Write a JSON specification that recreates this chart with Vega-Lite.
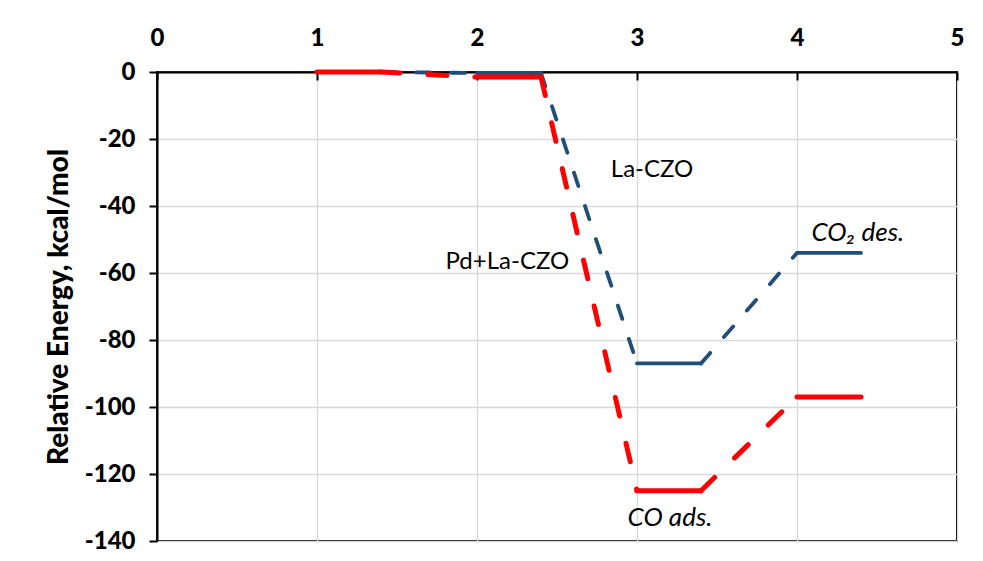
{
  "$schema": "https://vega.github.io/schema/vega-lite/v6.json",
  "width": 800,
  "height": 469,
  "autosize": {"type": "none"},
  "padding": {"left": 157, "top": 72, "right": 26, "bottom": 20},
  "background": "white",
  "config": {
    "font": "Lato",
    "view": {"stroke": "black", "strokeWidth": 2}
  },
  "datasets": {
    "lines": [
      {"series": "La-CZO", "seg": "b1", "kind": "level", "x": 1, "y": 0},
      {"series": "La-CZO", "seg": "b1", "kind": "level", "x": 1.4, "y": 0},
      {"series": "La-CZO", "seg": "b2", "kind": "connector", "x": 1.4, "y": 0},
      {"series": "La-CZO", "seg": "b2", "kind": "connector", "x": 2, "y": -0.3},
      {"series": "La-CZO", "seg": "b3", "kind": "level", "x": 2, "y": -0.3},
      {"series": "La-CZO", "seg": "b3", "kind": "level", "x": 2.4, "y": -0.3},
      {"series": "La-CZO", "seg": "b4", "kind": "connector", "x": 2.4, "y": -0.3},
      {"series": "La-CZO", "seg": "b4", "kind": "connector", "x": 3, "y": -87},
      {"series": "La-CZO", "seg": "b5", "kind": "level", "x": 3, "y": -87},
      {"series": "La-CZO", "seg": "b5", "kind": "level", "x": 3.4, "y": -87},
      {"series": "La-CZO", "seg": "b6", "kind": "connector", "x": 3.4, "y": -87},
      {"series": "La-CZO", "seg": "b6", "kind": "connector", "x": 4, "y": -54},
      {"series": "La-CZO", "seg": "b7", "kind": "level", "x": 4, "y": -54},
      {"series": "La-CZO", "seg": "b7", "kind": "level", "x": 4.4, "y": -54},
      {"series": "Pd+La-CZO", "seg": "r1", "kind": "level", "x": 1, "y": 0},
      {"series": "Pd+La-CZO", "seg": "r1", "kind": "level", "x": 1.4, "y": 0},
      {"series": "Pd+La-CZO", "seg": "r2", "kind": "connector", "x": 1.4, "y": 0},
      {"series": "Pd+La-CZO", "seg": "r2", "kind": "connector", "x": 2, "y": -1.5},
      {"series": "Pd+La-CZO", "seg": "r3", "kind": "level", "x": 2, "y": -1.5},
      {"series": "Pd+La-CZO", "seg": "r3", "kind": "level", "x": 2.4, "y": -1.5},
      {"series": "Pd+La-CZO", "seg": "r4", "kind": "connector", "x": 2.4, "y": -1.5},
      {"series": "Pd+La-CZO", "seg": "r4", "kind": "connector", "x": 3, "y": -125},
      {"series": "Pd+La-CZO", "seg": "r5", "kind": "level", "x": 3, "y": -125},
      {"series": "Pd+La-CZO", "seg": "r5", "kind": "level", "x": 3.4, "y": -125},
      {"series": "Pd+La-CZO", "seg": "r6", "kind": "connector", "x": 3.4, "y": -125},
      {"series": "Pd+La-CZO", "seg": "r6", "kind": "connector", "x": 4, "y": -97},
      {"series": "Pd+La-CZO", "seg": "r7", "kind": "level", "x": 4, "y": -97},
      {"series": "Pd+La-CZO", "seg": "r7", "kind": "level", "x": 4.4, "y": -97}
    ],
    "labels": [
      {"text": "La-CZO", "style": "normal", "x": 3.094, "y": -29.3},
      {"text": "Pd+La-CZO", "style": "normal", "x": 2.19, "y": -56.6},
      {"text": "CO₂ des.", "style": "italic", "x": 4.38, "y": -48.2},
      {"text": "CO ads.", "style": "italic", "x": 3.206, "y": -133.1}
    ]
  },
  "encoding": {
    "x": {
      "field": "x",
      "type": "quantitative",
      "scale": {"domain": [0, 5], "nice": false, "zero": false},
      "axis": {
        "orient": "top",
        "values": [0, 1, 2, 3, 4, 5],
        "labelExpr": "'' + datum.value",
        "labelFlush": false,
        "title": null,
        "grid": true,
        "gridColor": "#d9d9d9",
        "gridWidth": 1.3,
        "domainColor": "black",
        "domainWidth": 2,
        "tickColor": "black",
        "tickWidth": 2,
        "tickSize": -8,
        "labelPadding": 30,
        "labelFont": "Lato",
        "labelFontWeight": 900,
        "labelFontSize": 24,
        "labelColor": "black"
      }
    },
    "y": {
      "field": "y",
      "type": "quantitative",
      "scale": {"domain": [-140, 0], "nice": false, "zero": false},
      "axis": {
        "orient": "left",
        "values": [0, -20, -40, -60, -80, -100, -120, -140],
        "labelExpr": "'' + datum.value",
        "title": "Relative Energy, kcal/mol",
        "titleFont": "Lato",
        "titleFontWeight": 900,
        "titleFontSize": 28,
        "titleColor": "black",
        "titlePadding": 11,
        "grid": true,
        "gridColor": "#d9d9d9",
        "gridWidth": 1.3,
        "domainColor": "black",
        "domainWidth": 2,
        "tickColor": "black",
        "tickWidth": 2,
        "tickSize": 8,
        "labelPadding": 14,
        "labelFont": "Lato",
        "labelFontWeight": 900,
        "labelFontSize": 24,
        "labelColor": "black"
      }
    }
  },
  "layer": [
    {
      "data": {"name": "lines"},
      "transform": [{"filter": "datum.series === 'La-CZO' && datum.kind === 'level'"}],
      "mark": {"type": "line", "color": "#1F4E79", "strokeWidth": 3.8, "strokeCap": "round"},
      "encoding": {"detail": {"field": "seg"}}
    },
    {
      "data": {"name": "lines"},
      "transform": [{"filter": "datum.series === 'La-CZO' && datum.kind === 'connector'"}],
      "mark": {"type": "line", "color": "#1F4E79", "strokeWidth": 3.8, "strokeCap": "round", "strokeDash": [14, 21]},
      "encoding": {"detail": {"field": "seg"}}
    },
    {
      "data": {"name": "lines"},
      "transform": [{"filter": "datum.series === 'Pd+La-CZO' && datum.kind === 'level'"}],
      "mark": {"type": "line", "color": "#FF0000", "strokeWidth": 5, "strokeCap": "round"},
      "encoding": {"detail": {"field": "seg"}}
    },
    {
      "data": {"name": "lines"},
      "transform": [{"filter": "datum.series === 'Pd+La-CZO' && datum.kind === 'connector'"}],
      "mark": {"type": "line", "color": "#FF0000", "strokeWidth": 5, "strokeCap": "round", "strokeDash": [19, 28]},
      "encoding": {"detail": {"field": "seg"}}
    },
    {
      "data": {"name": "labels"},
      "transform": [{"filter": "datum.style === 'normal'"}],
      "mark": {"type": "text", "font": "Lato", "fontSize": 24, "color": "black", "align": "center", "baseline": "middle"},
      "encoding": {"text": {"field": "text"}}
    },
    {
      "data": {"name": "labels"},
      "transform": [{"filter": "datum.style === 'italic'"}],
      "mark": {"type": "text", "font": "Lato", "fontSize": 26, "fontStyle": "italic", "color": "black", "align": "center", "baseline": "middle"},
      "encoding": {"text": {"field": "text"}}
    }
  ]
}
